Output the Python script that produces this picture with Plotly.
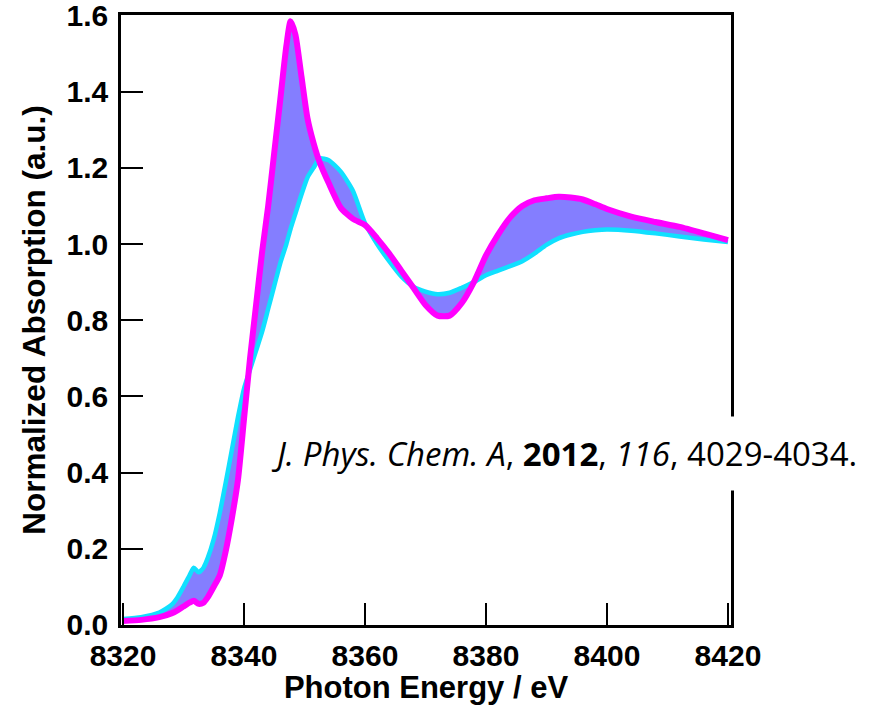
import plotly.graph_objects as go

# Photon energy grid (eV)
energy = [8320, 8323, 8326, 8328, 8329, 8330, 8331, 8331.7, 8332.5, 8333.3, 8334, 8335, 8336, 8337,
          8338, 8339, 8340, 8341, 8342, 8343, 8344, 8345, 8346, 8347, 8347.7, 8348.5, 8349.5, 8350.5,
          8351.5, 8352.5, 8354, 8356, 8358, 8360, 8362, 8364, 8366, 8368, 8370, 8372, 8374, 8376,
          8378, 8380, 8382, 8384, 8386, 8388, 8390, 8392, 8394, 8396, 8398, 8400, 8404, 8408, 8412,
          8416, 8420]

# first spectrum (cyan)
first_spectrum = [0.015, 0.020, 0.032, 0.052, 0.072, 0.100, 0.130, 0.150, 0.138, 0.150, 0.175, 0.225,
                  0.294, 0.375, 0.460, 0.545, 0.620, 0.670, 0.720, 0.770, 0.830, 0.890, 0.950, 1.000,
                  1.040, 1.080, 1.130, 1.175, 1.200, 1.225, 1.220, 1.190, 1.140, 1.055, 1.000, 0.955,
                  0.915, 0.888, 0.875, 0.868, 0.872, 0.885, 0.900, 0.918, 0.930, 0.942, 0.955, 0.975,
                  0.998, 1.015, 1.025, 1.032, 1.036, 1.038, 1.035, 1.028, 1.020, 1.012, 1.005]

# last spectrum (magenta)
last_spectrum = [0.010, 0.013, 0.020, 0.030, 0.038, 0.048, 0.058, 0.063, 0.055, 0.058, 0.072, 0.100,
                 0.130, 0.195, 0.280, 0.380, 0.540, 0.700, 0.840, 0.980, 1.100, 1.240, 1.380, 1.520,
                 1.585, 1.550, 1.440, 1.330, 1.265, 1.215, 1.160, 1.095, 1.066, 1.050, 1.015, 0.975,
                 0.930, 0.885, 0.840, 0.812, 0.812, 0.845, 0.900, 0.970, 1.025, 1.070, 1.100, 1.115,
                 1.120, 1.124, 1.122, 1.117, 1.105, 1.092, 1.072, 1.058, 1.045, 1.028, 1.010]

x_ticks = [8320, 8340, 8360, 8380, 8400, 8420]
y_ticks = [0.0, 0.2, 0.4, 0.6, 0.8, 1.0, 1.2, 1.4, 1.6]
y_tick_labels = ["0.0", "0.2", "0.4", "0.6", "0.8", "1.0", "1.2", "1.4", "1.6"]

fig = go.Figure()
fig.add_trace(go.Scatter(x=energy, y=first_spectrum, mode="lines",
                         line=dict(color="#10E0FF", width=4.5, shape="spline", smoothing=0.6),
                         showlegend=False, hoverinfo="skip"))
fig.add_trace(go.Scatter(x=energy, y=last_spectrum, mode="lines", fill="tonexty",
                         fillcolor="rgba(132,126,255,1)",
                         line=dict(color="#FF00FF", width=6, shape="spline", smoothing=0.6),
                         showlegend=False, hoverinfo="skip"))

sans = "Liberation Sans, Arial, sans-serif"
axis_font = dict(family=sans, size=30, color="black")

fig.update_layout(
    width=885, height=705,
    margin=dict(l=121, r=154, t=15, b=80),
    paper_bgcolor="white", plot_bgcolor="white",
    font=dict(family=sans, color="black"),
    xaxis=dict(range=[8319.67, 8420.5], tickvals=x_ticks, ticktext=[f"<b>{v}</b>" for v in x_ticks],
               ticks="inside", ticklen=22, tickwidth=2, tickcolor="black",
               showline=True, linewidth=2.5, linecolor="black", mirror=True, automargin=False,
               showgrid=False, zeroline=False, tickfont=axis_font, ticklabelstandoff=2,
               ticklabeloverflow="allow",
               title=dict(text="<b>Photon Energy / eV</b>", font=dict(family=sans, size=31, color="black"), standoff=0)),
    yaxis=dict(range=[-0.0005, 1.6015], tickvals=y_ticks, ticktext=[f"<b>{t}</b>" for t in y_tick_labels],
               ticks="inside", ticklen=22, tickwidth=2, tickcolor="black",
               showline=True, linewidth=2.5, linecolor="black", mirror=True, automargin=False,
               showgrid=False, zeroline=False, tickfont=axis_font, ticklabelstandoff=4,
               ticklabeloverflow="allow",
               title=dict(text="<b>Normalized Absorption (a.u.)</b>", font=dict(family=sans, size=31.5, color="black"), standoff=12)),
    annotations=[dict(text="<i>J. Phys. Chem. A</i>, <b>2012</b>, <i>116</i>, 4029-4034.",
                      xref="paper", yref="paper", x=(256 - 121) / 610, y=(625 - 453) / 610,
                      xanchor="left", yanchor="middle", showarrow=False,
                      font=dict(family="Open Sans, sans-serif", size=33, color="black"),
                      bgcolor="white", borderpad=14)],
)

fig.write_html("out.html")
